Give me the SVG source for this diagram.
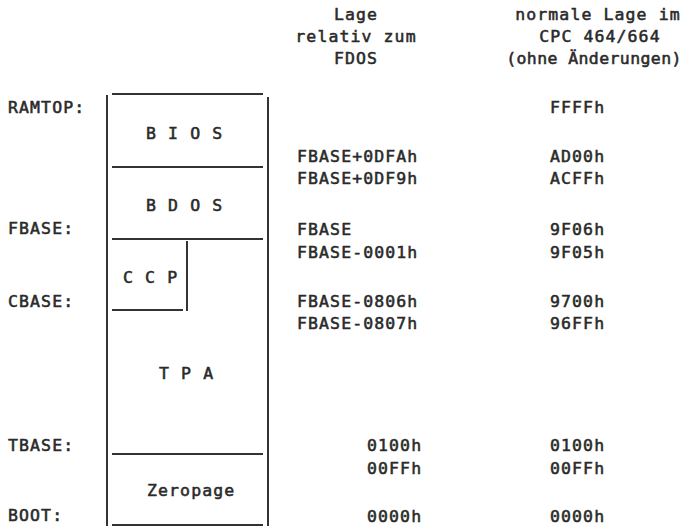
<svg xmlns="http://www.w3.org/2000/svg" width="687" height="526" viewBox="0 0 687 526">
<style>
text{font-family:"DejaVu Sans Mono","Liberation Mono",monospace;font-size:16.5px;fill:#2a2a2a;stroke:#2a2a2a;stroke-width:0.55px;letter-spacing:1.1px}
.c{text-anchor:middle}
.n{letter-spacing:0.4px}
.ln{stroke:#333;stroke-width:2;fill:none}
</style>
<rect width="687" height="526" fill="#fff"/>
<g id="header">
<text class="c" x="356" y="20">Lage</text>
<text class="c" x="356" y="42">relativ zum</text>
<text class="c" x="356" y="64">FDOS</text>
<text class="c" x="598" y="20">normale Lage im</text>
<text class="c" x="600" y="42">CPC 464/664</text>
<text class="c n" x="594" y="64">(ohne Änderungen)</text>
</g>
<g id="labels">
<text x="8" y="113">RAMTOP:</text>
<text x="8" y="234">FBASE:</text>
<text x="8" y="307">CBASE:</text>
<text x="8" y="451">TBASE:</text>
<text x="8" y="521">BOOT:</text>
</g>
<g id="memory-frame">
<line class="ln" x1="107" y1="95" x2="107" y2="526"/>
<line class="ln" x1="268" y1="97" x2="268" y2="526"/>
</g>
<g id="bios">
<line class="ln" x1="112" y1="94" x2="263" y2="94"/>
<text x="146" y="139">B I O S</text>
</g>
<g id="bdos">
<line class="ln" x1="112" y1="167" x2="263" y2="167"/>
<text x="146" y="211">B D O S</text>
</g>
<g id="ccp">
<line class="ln" x1="112" y1="239" x2="263" y2="239"/>
<line class="ln" x1="187" y1="241" x2="187" y2="311"/>
<line class="ln" x1="112" y1="310" x2="183" y2="310"/>
<text x="123" y="283">C C P</text>
</g>
<g id="tpa">
<text x="159" y="379">T P A</text>
</g>
<g id="zeropage">
<line class="ln" x1="112" y1="454" x2="263" y2="454"/>
<text x="147" y="496">Zeropage</text>
<line class="ln" x1="112" y1="525" x2="263" y2="525"/>
</g>
<g id="fdos-column">
<text x="297" y="162">FBASE+0DFAh</text>
<text x="297" y="184">FBASE+0DF9h</text>
<text x="297" y="235">FBASE</text>
<text x="297" y="258">FBASE-0001h</text>
<text x="297" y="307">FBASE-0806h</text>
<text x="297" y="329">FBASE-0807h</text>
<text x="367" y="451">0100h</text>
<text x="367" y="474">00FFh</text>
<text x="367" y="522">0000h</text>
</g>
<g id="cpc-column">
<text x="550" y="113">FFFFh</text>
<text x="550" y="162">AD00h</text>
<text x="550" y="184">ACFFh</text>
<text x="550" y="235">9F06h</text>
<text x="550" y="258">9F05h</text>
<text x="550" y="307">9700h</text>
<text x="550" y="329">96FFh</text>
<text x="550" y="451">0100h</text>
<text x="550" y="474">00FFh</text>
<text x="550" y="522">0000h</text>
</g>
</svg>
